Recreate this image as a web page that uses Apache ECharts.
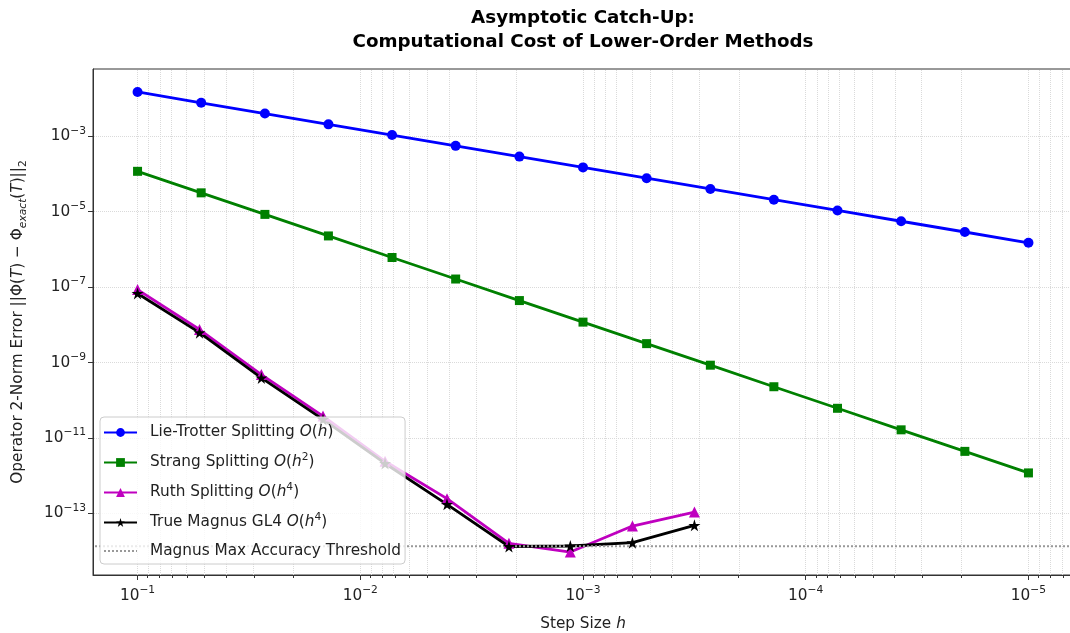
<!DOCTYPE html>
<html><head><meta charset="utf-8">
<script src="https://cdn.jsdelivr.net/npm/echarts@6/dist/echarts.min.js"></script>
<style>html,body{margin:0;padding:0;background:#fff;overflow:hidden}#c{width:1070px;height:633px}</style>
</head><body><div id="c"></div>
<script>
// ---- data ----
const hFine = [1e-1, 5.18e-2, 2.68e-2, 1.39e-2, 7.20e-3, 3.73e-3, 1.93e-3, 1.00e-3, 5.18e-4, 2.68e-4, 1.39e-4, 7.20e-5, 3.73e-5, 1.93e-5, 1.00e-5];
const hCoarse = [1e-1, 5.27e-2, 2.78e-2, 1.47e-2, 7.74e-3, 4.08e-3, 2.15e-3, 1.14e-3, 6.0e-4, 3.16e-4];
const lieTrotter = [1.50e-2, 7.77e-3, 4.02e-3, 2.08e-3, 1.08e-3, 5.59e-4, 2.90e-4, 1.50e-4, 7.77e-5, 4.02e-5, 2.08e-5, 1.08e-5, 5.59e-6, 2.90e-6, 1.50e-6];
const strang = [1.18e-4, 3.17e-5, 8.50e-6, 2.28e-6, 6.11e-7, 1.64e-7, 4.40e-8, 1.18e-8, 3.17e-9, 8.50e-10, 2.28e-10, 6.11e-11, 1.64e-11, 4.40e-12, 1.18e-12];
const ruth = [8.6e-8, 7.5e-9, 4.8e-10, 3.8e-11, 2.4e-12, 2.45e-13, 1.6e-14, 9.4e-15, 4.6e-14, 1.08e-13];
const magnus = [6.8e-8, 6.2e-9, 3.9e-10, 3.1e-11, 2.1e-12, 1.73e-13, 1.32e-14, 1.36e-14, 1.67e-14, 4.8e-14];
const threshold = [1.34e-14];
const xTickExps = [-1, -2, -3, -4, -5];
const yTickExps = [-3, -5, -7, -9, -11, -13];
const seriesNames = ['Lie-Trotter Splitting O(h)', 'Strang Splitting O(h^2)', 'Ruth Splitting O(h^4)', 'True Magnus GL4 O(h^4)', 'Magnus Max Accuracy Threshold'];
const legendLabels = [
  'Lie-Trotter Splitting {cal|O}({i|h})',
  'Strang Splitting {cal|O}({i|h}{sup|2})',
  'Ruth Splitting {cal|O}({i|h}{sup|4})',
  'True Magnus GL4 {cal|O}({i|h}{sup|4})',
  'Magnus Max Accuracy Threshold'
];
const titleText = 'Asymptotic Catch-Up:\nComputational Cost of Lower-Order Methods';

// ---- helpers ----
const F = '"DejaVu Sans", sans-serif';
const FS = 15.3, FSS = 10.7;
const L = Math.log10;
const X_MIN = -5.2, X_MAX = -0.8, Y_MIN = -14.636, Y_MAX = -1.214;
const pts = (hs, vs) => vs.map((v, i) => [L(hs[i]), L(v)]);
const minorX = [];
for (let k = -7; k <= 0; k++) for (let m = 2; m <= 9; m++) {
  const v = k + L(m);
  if (v > X_MIN && v < X_MAX) minorX.push(v);
}
const tickRich = {
  b: {fontFamily: F, fontSize: FS, color: '#222', lineHeight: 22},
  s: {fontFamily: F, fontSize: FSS, color: '#222', lineHeight: 13, verticalAlign: 'top'}
};
const expFmt = v => '{b|10}{s|\u2212' + Math.round(-v) + '}';
const STAR = 'path://M50,0 L61.2,34.5 L97.6,34.5 L68.2,55.9 L79.4,90.5 L50,69.1 L20.6,90.5 L31.8,55.9 L2.4,34.5 L38.8,34.5 Z';

const chart = echarts.init(document.getElementById('c'), null, {renderer: 'canvas'});
const lineSeries = (name, data, color, symbol, size) => ({
  name, type: 'line', data, symbol, symbolSize: size, showSymbol: true,
  lineStyle: {color, width: 2.8, type: 'solid'}, itemStyle: {color, borderWidth: 0}, z: 3, animation: false
});

chart.setOption({
  animation: false,
  backgroundColor: '#fff',
  textStyle: {fontFamily: F},
  graphic: [{
    type: 'text', x: 583, y: 6, z: 10,
    style: {text: titleText, align: 'center', verticalAlign: 'top', textAlign: 'center', textVerticalAlign: 'top',
      fontFamily: F, fontWeight: 'bold', fontSize: 18.3, lineHeight: 24, fill: '#000'}
  }],
  grid: {left: 93, top: 69, right: -3, bottom: 58, show: true, borderColor: '#333', borderWidth: 1,
    containLabel: false, outerBoundsMode: 'none'},
  legend: {
    orient: 'vertical', left: 100, top: 417, z: 6,
    padding: [5, 4, 4, 3],
    itemWidth: 33, itemHeight: 11, itemGap: 9,
    backgroundColor: 'rgba(255,255,255,0.8)', borderColor: '#ccc', borderWidth: 1, borderRadius: 4,
    data: seriesNames.map((n, i) => i === 4 ? {name: n, textStyle: {lineHeight: 18}} : n),
    formatter: name => legendLabels[seriesNames.indexOf(name)],
    textStyle: {
      fontFamily: F, fontSize: FS, color: '#222', lineHeight: 21, padding: [0, 0, 0, 8],
      rich: {
        cal: {fontFamily: F, fontSize: FS, fontStyle: 'italic', color: '#222', lineHeight: 21},
        i: {fontFamily: F, fontSize: FS, fontStyle: 'italic', color: '#222', lineHeight: 21},
        sup: {fontFamily: F, fontSize: FSS, color: '#222', lineHeight: 13, verticalAlign: 'top'}
      }
    }
  },
  xAxis: [{
    type: 'value', min: X_MIN, max: X_MAX, inverse: true, position: 'bottom',
    axisLine: {show: true, lineStyle: {color: '#333', width: 1}},
    axisTick: {show: true, customValues: xTickExps, length: 5, lineStyle: {color: '#333'}},
    axisLabel: {customValues: xTickExps, formatter: expFmt, rich: tickRich, margin: 10},
    splitLine: {show: false},
    name: 'Step Size {i|h}', nameLocation: 'middle', nameGap: 39,
    nameTextStyle: {fontFamily: F, fontSize: FS, color: '#222', lineHeight: 21,
      rich: {i: {fontFamily: F, fontSize: FS, fontStyle: 'italic', color: '#222', lineHeight: 21}}}
  }, {
    type: 'value', min: X_MIN, max: X_MAX, inverse: true, position: 'bottom', gridIndex: 0,
    axisLine: {show: false},
    axisTick: {show: true, customValues: minorX, length: 3, lineStyle: {color: '#333'}},
    axisLabel: {show: false}, splitLine: {show: false}
  }],
  yAxis: {
    type: 'value', min: Y_MIN, max: Y_MAX,
    axisLine: {show: true, lineStyle: {color: '#333', width: 1}},
    axisTick: {show: true, customValues: yTickExps, length: 5, lineStyle: {color: '#333'}},
    axisLabel: {customValues: yTickExps, formatter: expFmt, rich: tickRich, margin: 7},
    splitLine: {show: false},
    name: 'Operator 2-Norm Error ||\u03A6({i|T}) \u2212 \u03A6{sub|exact}({i|T})||{sub2|2}',
    nameLocation: 'middle', nameRotate: 90, nameGap: 64,
    nameTextStyle: {fontFamily: F, fontSize: FS, color: '#222', lineHeight: 21,
      rich: {
        i: {fontFamily: F, fontSize: FS, fontStyle: 'italic', color: '#222', lineHeight: 21},
        sub: {fontFamily: F, fontSize: FSS, fontStyle: 'italic', color: '#222', lineHeight: 11, verticalAlign: 'bottom'},
        sub2: {fontFamily: F, fontSize: FSS, color: '#222', lineHeight: 11, verticalAlign: 'bottom'}
      }}
  },
  series: [
    {
      type: 'line', data: [], z: 1, silent: true, animation: false,
      markLine: {
        z: 1, zlevel: 0,
        silent: true, symbol: ['none', 'none'], label: {show: false}, animation: false,
        lineStyle: {color: '#dadada', width: 1, type: 'dotted'},
        emphasis: {disabled: true},
        data: [
          ...xTickExps.map(v => ({xAxis: v})),
          ...minorX.map(v => ({xAxis: v})),
          ...yTickExps.map(v => ({yAxis: v}))
        ]
      }
    },
    lineSeries(seriesNames[0], pts(hFine, lieTrotter), '#0000ff', 'circle', 10),
    lineSeries(seriesNames[1], pts(hFine, strang), '#008000', 'rect', 9),
    lineSeries(seriesNames[2], pts(hCoarse, ruth), '#bf00bf', 'triangle', 11),
    lineSeries(seriesNames[3], pts(hCoarse, magnus), '#000000', STAR, 12),
    {
      name: seriesNames[4], type: 'line', symbol: 'none', z: 3, animation: false,
      data: [[X_MIN, L(threshold[0])], [X_MAX, L(threshold[0])]],
      lineStyle: {color: '#999', width: 2, type: 'dotted'},
      itemStyle: {color: 'rgba(0,0,0,0)'}
    }
  ]
});
</script></body></html>
